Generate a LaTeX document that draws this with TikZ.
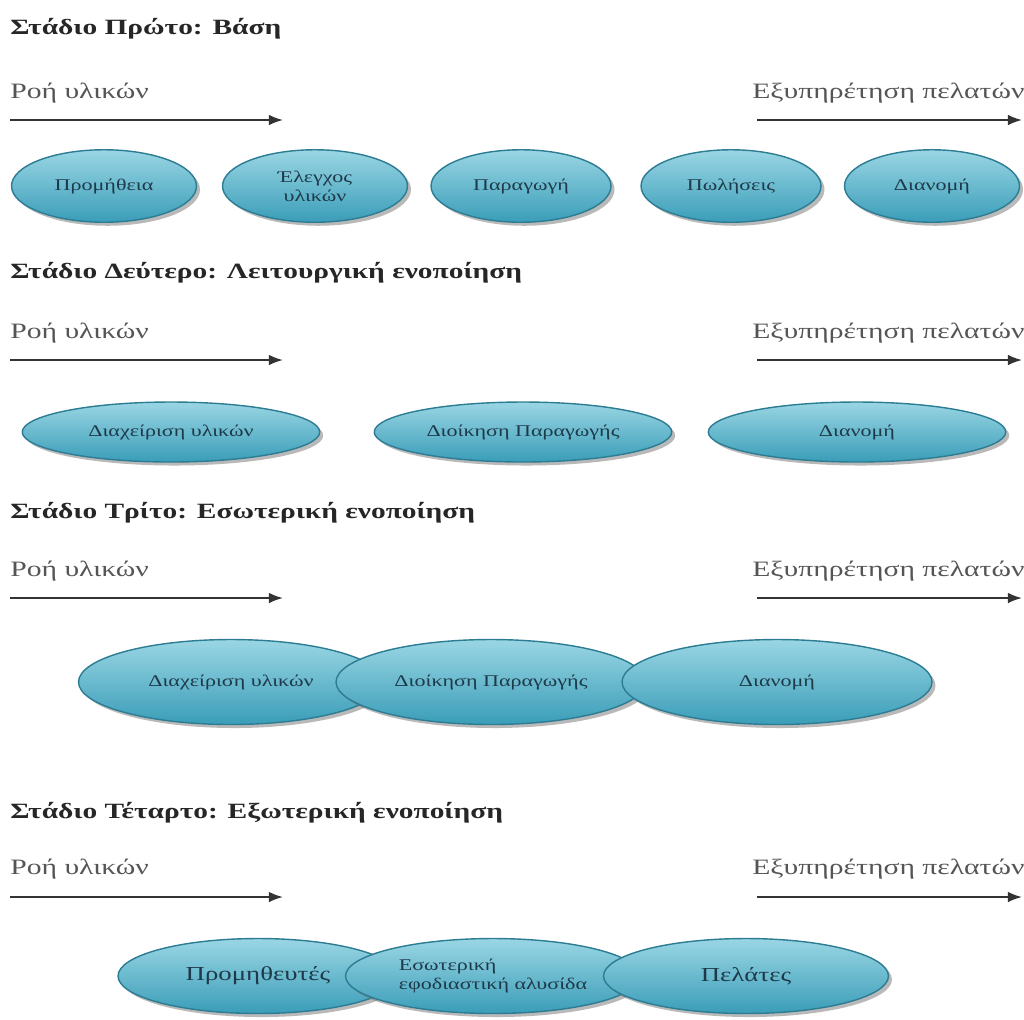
\documentclass[tikz,border=0pt]{standalone}
\usepackage{fontspec}
\setmainfont{Liberation Serif}
\newfontfamily\widefont[FakeStretch=1.35]{Liberation Serif}
\usepackage{xcolor}
\usepackage{tikz}
\usetikzlibrary{shapes.geometric, arrows.meta, positioning, shadows}

\definecolor{tealtop}{HTML}{9AD6E4}
\definecolor{tealbot}{HTML}{3A9DB8}
\definecolor{tealline}{HTML}{2C7C93}
\definecolor{flowgrey}{HTML}{555555}
\definecolor{textdark}{HTML}{1E3A4A}

\begin{document}
\begin{tikzpicture}[
  x=0.02cm, y=-0.02cm,
  stage/.style = {anchor=base west, inner sep=0pt, text=black!85,
                  font=\widefont\bfseries\fontsize{12.4}{14}\selectfont},
  flow/.style  = {anchor=base west, inner sep=0pt, text=flowgrey,
                  font=\widefont\fontsize{12.5}{15}\selectfont},
  arr/.style   = {-{Latex[length=8pt,width=6pt]}, line width=1pt, black!80},
  proc/.style  = {ellipse, draw=tealline, thick, top color=tealtop, bottom color=tealbot,
                  drop shadow={shadow xshift=2pt, shadow yshift=-2pt, fill=black!55},
                  align=center, inner sep=0pt, text=textdark,
                  font=\widefont\fontsize{9.3}{11}\selectfont},
  big/.style   = {font=\widefont\fontsize{11.3}{12}\selectfont}
]
\useasboundingbox (0,0) rectangle (1024,1019);

% Stage 1
\node[stage] (t1) at (10,34) {Στάδιο Πρώτο: Βάση};
\node[flow] (rl1) at (10,98) {Ροή υλικών};
\node[flow] (ep1) at (752,98) {Εξυπηρέτηση πελατών};
\coordinate (ls1) at (10,120);  \coordinate (le1) at (283,120);
\coordinate (rs1) at (757,120); \coordinate (re1) at (1022,120);
\draw[arr] (ls1) -- (le1);
\draw[arr] (rs1) -- (re1);

\node[proc, minimum width=3.7cm, minimum height=1.45cm] (prom) at (104,186) {Προμήθεια};
\node[proc, minimum width=3.7cm, minimum height=1.45cm] (eleg) at (315,186) {Έλεγχος\\υλικών};
\node[proc, minimum width=3.6cm, minimum height=1.45cm] (parag) at (521,186) {Παραγωγή};
\node[proc, minimum width=3.6cm, minimum height=1.45cm] (pol) at (731,186) {Πωλήσεις};
\node[proc, minimum width=3.5cm, minimum height=1.45cm] (dian1) at (932,186) {Διανομή};

% Stage 2
\node[stage] (t2) at (10,278) {Στάδιο Δεύτερο: Λειτουργική ενοποίηση};
\node[flow] (rl2) at (10,338) {Ροή υλικών};
\node[flow] (ep2) at (752,338) {Εξυπηρέτηση πελατών};
\coordinate (ls2) at (10,360);  \coordinate (le2) at (283,360);
\coordinate (rs2) at (757,360); \coordinate (re2) at (1022,360);
\draw[arr] (ls2) -- (le2);
\draw[arr] (rs2) -- (re2);

\node[proc, minimum width=5.95cm, minimum height=1.2cm] (diax2) at (171,432) {Διαχείριση υλικών};
\node[proc, minimum width=5.95cm, minimum height=1.2cm] (dioik2) at (523,432) {Διοίκηση Παραγωγής};
\node[proc, minimum width=5.95cm, minimum height=1.2cm] (dian2) at (857,432) {Διανομή};

% Stage 3
\node[stage] (t3) at (10,518) {Στάδιο Τρίτο: Εσωτερική ενοποίηση};
\node[flow] (rl3) at (10,576) {Ροή υλικών};
\node[flow] (ep3) at (752,576) {Εξυπηρέτηση πελατών};
\coordinate (ls3) at (10,598);  \coordinate (le3) at (283,598);
\coordinate (rs3) at (757,598); \coordinate (re3) at (1022,598);
\draw[arr] (ls3) -- (le3);
\draw[arr] (rs3) -- (re3);

\node[proc, minimum width=6.1cm, minimum height=1.7cm] (diax3) at (231,682) {Διαχείριση υλικών};
\node[proc, minimum width=6.2cm, minimum height=1.7cm] (dioik3) at (491,682) {Διοίκηση Παραγωγής};
\node[proc, minimum width=6.2cm, minimum height=1.7cm] (dian3) at (777,682) {Διανομή};

% Stage 4
\node[stage] (t4) at (10,818) {Στάδιο Τέταρτο: Εξωτερική ενοποίηση};
\node[flow] (rl4) at (10,874) {Ροή υλικών};
\node[flow] (ep4) at (752,874) {Εξυπηρέτηση πελατών};
\coordinate (ls4) at (10,897);  \coordinate (le4) at (283,897);
\coordinate (rs4) at (757,897); \coordinate (re4) at (1022,897);
\draw[arr] (ls4) -- (le4);
\draw[arr] (rs4) -- (re4);

\node[proc, big, minimum width=5.6cm, minimum height=1.5cm] (suppl) at (258,976) {Προμηθευτές};
\node[proc, minimum width=5.9cm, minimum height=1.5cm, align=left] (chain) at (493,976) {Εσωτερική\\εφοδιαστική αλυσίδα};
\node[proc, big, minimum width=5.7cm, minimum height=1.5cm] (cust) at (746,976) {Πελάτες};

\end{tikzpicture}
\end{document}
